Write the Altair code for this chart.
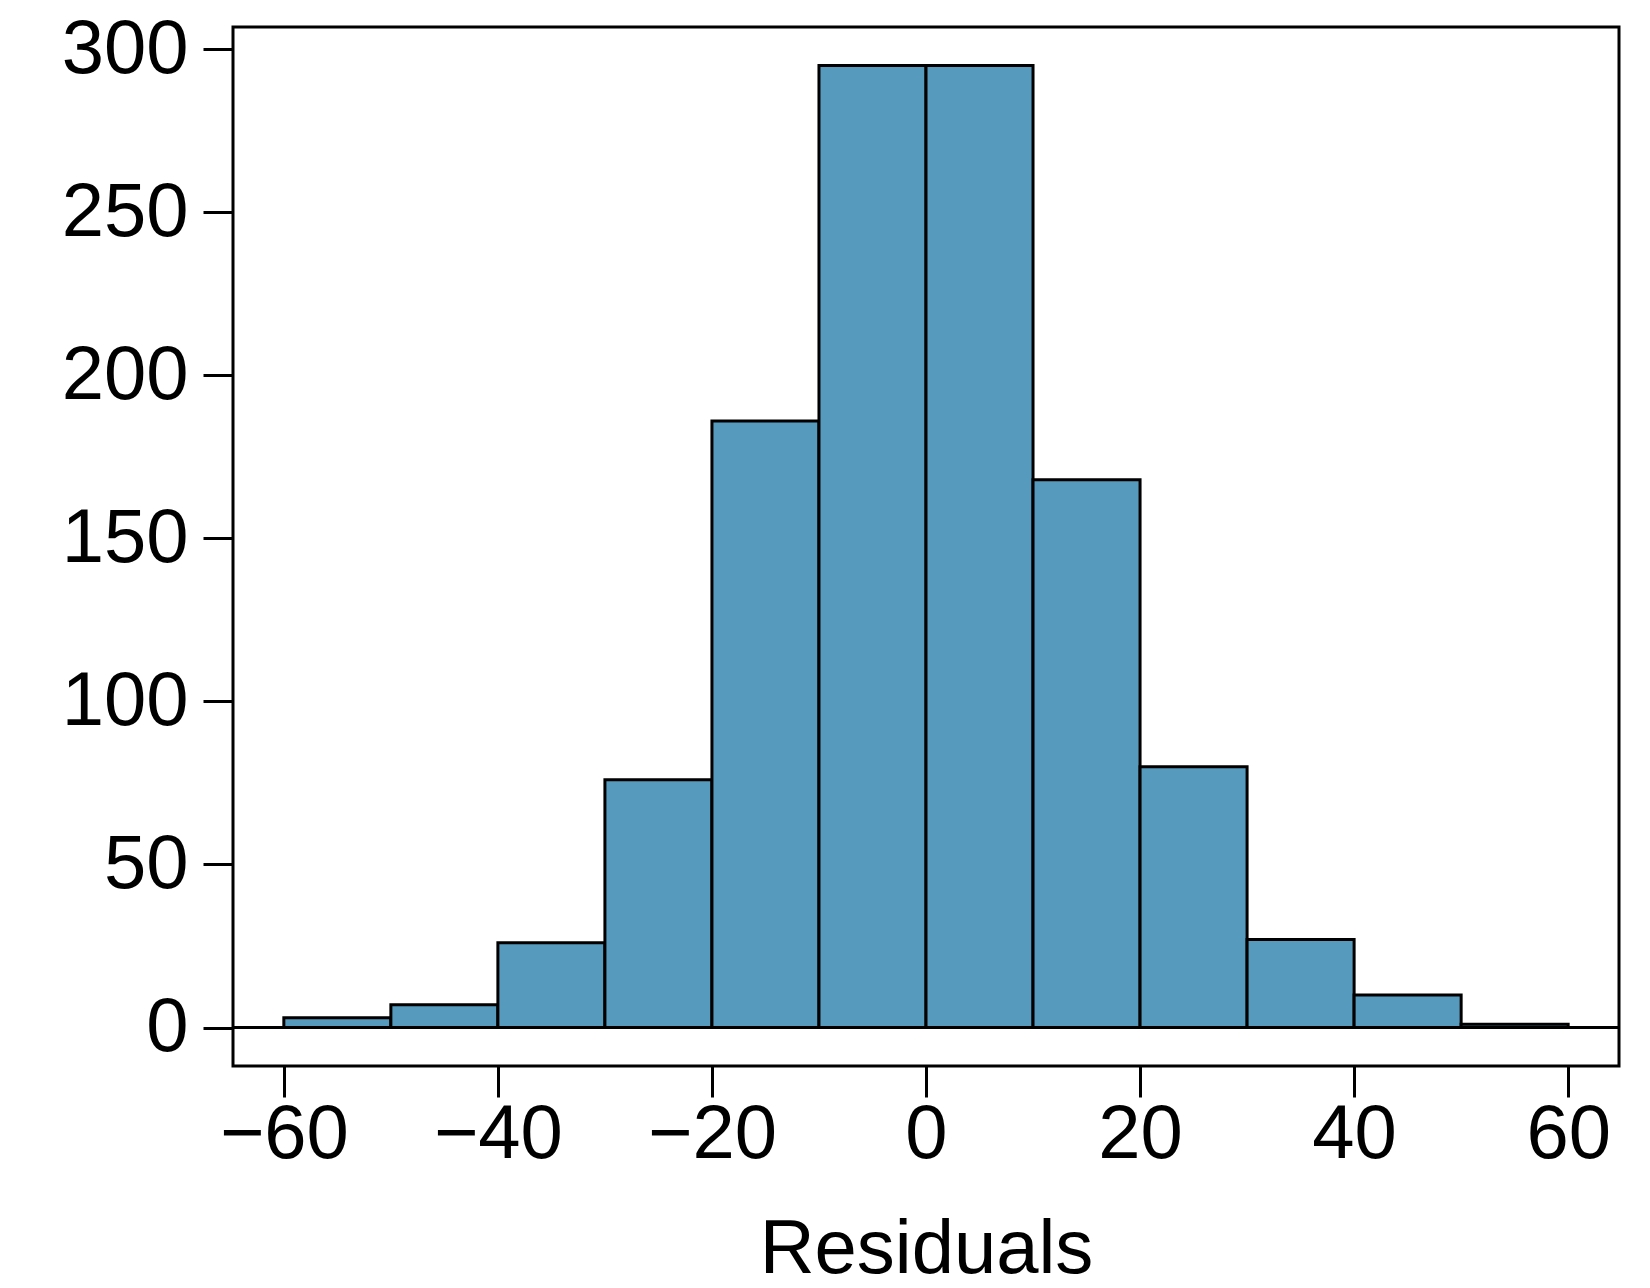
import altair as alt
import pandas as pd

# Histogram of residuals: bins of width 10 from -60 to 60
bin_start = [-60, -50, -40, -30, -20, -10, 0, 10, 20, 30, 40, 50]
bin_end = [-50, -40, -30, -20, -10, 0, 10, 20, 30, 40, 50, 60]
counts = [3, 7, 26, 76, 186, 295, 295, 168, 80, 27, 10, 1]

x_ticks = [-60, -40, -20, 0, 20, 40, 60]
y_ticks = [0, 50, 100, 150, 200, 250, 300]

df = pd.DataFrame({"start": bin_start, "end": bin_end, "count": counts})

FONT = "Liberation Sans"
FILL = "#569BBD"

x_scale = alt.Scale(domain=[-64.75, 64.75], nice=False, zero=False)
y_scale = alt.Scale(domain=[-11.8, 306.8], nice=False, zero=False)

bars = alt.Chart(df).mark_rect(
    fill=FILL, stroke="black", strokeWidth=3
).encode(
    x=alt.X(
        "start:Q",
        scale=x_scale,
        title="Residuals",
        axis=alt.Axis(
            values=x_ticks,
            grid=False,
            domain=False,
            tickSize=31,
            tickWidth=3,
            tickColor="black",
            labelFontSize=76,
            labelFont=FONT,
            labelColor="black",
            labelPadding=0,
            labelFlush=False,
            titleFontSize=76,
            titleFont=FONT,
            titleFontWeight="normal",
            titleColor="black",
            titlePadding=40,
        ),
    ),
    x2="end:Q",
    y=alt.Y(
        "count:Q",
        scale=y_scale,
        title=None,
        axis=alt.Axis(
            values=y_ticks,
            grid=False,
            domain=False,
            tickSize=30,
            tickWidth=3,
            tickColor="black",
            labelFontSize=76,
            labelFont=FONT,
            labelColor="black",
            labelPadding=15,
            labelFlush=False,
        ),
    ),
    y2=alt.datum(0),
)

zero_line = alt.Chart(pd.DataFrame({"y": [0]})).mark_rule(
    color="black", strokeWidth=3
).encode(y=alt.Y("y:Q", scale=y_scale))

chart = (
    alt.layer(bars, zero_line)
    .properties(
        width=1386,
        height=1039,
        autosize=alt.AutoSizeParams(type="none"),
        padding={"left": 233, "top": 27, "right": 31, "bottom": 222},
        background="white",
    )
    .configure_view(stroke="black", strokeWidth=3)
)

chart.save("out.html", embed_options={"renderer": "svg", "actions": False})
